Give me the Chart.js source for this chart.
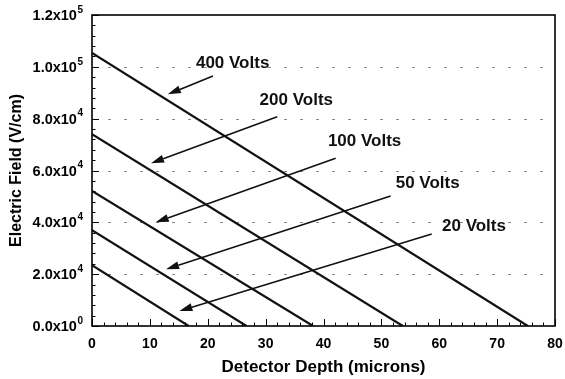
<!DOCTYPE html>
<html lang="en">
<head>
    <meta charset="UTF-8">
    <title>Electric Field vs Detector Depth</title>
    <script src="https://cdn.jsdelivr.net/npm/chart.js@4.4.1/dist/chart.umd.min.js"></script>
    <style>
        html, body { margin: 0; padding: 0; background: #fff; }
        #wrap { width: 565px; height: 379px; }
    </style>
</head>
<body>
    <div id="wrap">
        <canvas id="fieldChart" width="565" height="379"></canvas>
    </div>

    <script>
        // bias voltages and the field profile for each one
        const voltages = ['400 Volts', '200 Volts', '100 Volts', '50 Volts', '20 Volts'];
        const surfaceField = [105400, 74000, 52100, 37000, 23500];   // V/cm at depth 0
        const depletionDepth = [75.3, 53.7, 38.2, 26.7, 16.7];       // microns where field reaches 0

        // axis ticks
        const xTicks = [0, 10, 20, 30, 40, 50, 60, 70, 80];
        const yTickMantissa = ['0.0', '2.0', '4.0', '6.0', '8.0', '1.0', '1.2'];
        const yTickExponent = ['0', '4', '4', '4', '4', '5', '5'];

        // callout placement, in data units (depth, field)
        const labelAt   = [[24.3, 101500], [35.3, 86900], [47.1, 71100], [58.0, 55100], [66.0, 38600]];
        const arrowFrom = [[20.9, 96500],  [32.0, 80700], [42.1, 64700], [51.6, 50200], [58.7, 35500]];
        const arrowTo   = [[13.1, 89400],  [10.2, 62800], [11.0, 40000], [12.8, 21900], [15.1, 5800]];

        const FONT = '"Liberation Sans", Arial, Helvetica, sans-serif';

        const datasets = voltages.map((v, i) => ({
            label: v,
            data: [{ x: 0, y: surfaceField[i] }, { x: depletionDepth[i], y: 0 }],
            showLine: true,
            borderColor: '#111',
            borderWidth: 2.2,
            pointRadius: 0,
            fill: false
        }));

        // dotted grid, inward ticks, frame, y labels with exponents, callouts
        const decorations = {
            id: 'decorations',
            beforeDatasetsDraw(chart) {
                const { ctx, chartArea: a, scales: { y } } = chart;
                ctx.save();
                ctx.strokeStyle = '#8a8a8a';
                ctx.lineWidth = 1;
                ctx.setLineDash([3, 13]);
                for (let v = 20000; v <= 100000; v += 20000) {
                    const py = Math.round(y.getPixelForValue(v)) + 0.5;
                    ctx.beginPath();
                    ctx.moveTo(a.left, py);
                    ctx.lineTo(a.right, py);
                    ctx.stroke();
                }
                ctx.restore();
            },
            afterDatasetsDraw(chart) {
                const { ctx, chartArea: a, scales: { x, y } } = chart;
                ctx.save();

                // frame
                ctx.strokeStyle = '#000';
                ctx.lineWidth = 1.6;
                ctx.strokeRect(a.left, a.top, a.right - a.left, a.bottom - a.top);

                // inward tick marks
                ctx.lineWidth = 1;
                ctx.beginPath();
                for (let v = 0; v <= 80; v += 2) {
                    const px = Math.round(x.getPixelForValue(v)) + 0.5;
                    const len = v % 10 === 0 ? 7 : 3.5;
                    ctx.moveTo(px, a.bottom);
                    ctx.lineTo(px, a.bottom - len);
                }
                for (let v = 0; v <= 120000; v += 4000) {
                    const py = Math.round(y.getPixelForValue(v)) + 0.5;
                    const len = v % 20000 === 0 ? 7 : 3.5;
                    ctx.moveTo(a.left, py);
                    ctx.lineTo(a.left + len, py);
                }
                ctx.stroke();

                // y tick labels: mantissa x 10 with superscript exponent
                ctx.fillStyle = '#000';
                ctx.textBaseline = 'middle';
                yTickMantissa.forEach((m, i) => {
                    const py = y.getPixelForValue(i * 20000);
                    ctx.font = 'bold 10px ' + FONT;
                    const expW = ctx.measureText(yTickExponent[i]).width;
                    const right = a.left - 9;
                    ctx.textAlign = 'left';
                    ctx.fillText(yTickExponent[i], right - expW, py - 5);
                    ctx.font = 'bold 14.5px ' + FONT;
                    ctx.textAlign = 'right';
                    ctx.fillText(m + 'x10', right - expW - 0.5, py + 1);
                });

                // callout arrows and labels
                ctx.strokeStyle = '#111';
                ctx.fillStyle = '#111';
                ctx.lineWidth = 1.6;
                voltages.forEach((v, i) => {
                    const x0 = x.getPixelForValue(arrowFrom[i][0]);
                    const y0 = y.getPixelForValue(arrowFrom[i][1]);
                    const x1 = x.getPixelForValue(arrowTo[i][0]);
                    const y1 = y.getPixelForValue(arrowTo[i][1]);
                    const ang = Math.atan2(y1 - y0, x1 - x0);
                    const headLen = 13, headHalf = 4;
                    const bx = x1 - headLen * Math.cos(ang);
                    const by = y1 - headLen * Math.sin(ang);
                    ctx.beginPath();
                    ctx.moveTo(x0, y0);
                    ctx.lineTo(bx, by);
                    ctx.stroke();
                    ctx.beginPath();
                    ctx.moveTo(x1, y1);
                    ctx.lineTo(bx + headHalf * Math.sin(ang), by - headHalf * Math.cos(ang));
                    ctx.lineTo(bx - headHalf * Math.sin(ang), by + headHalf * Math.cos(ang));
                    ctx.closePath();
                    ctx.fill();

                    ctx.font = 'bold 17px ' + FONT;
                    ctx.textAlign = 'center';
                    ctx.textBaseline = 'middle';
                    ctx.fillText(v, x.getPixelForValue(labelAt[i][0]), y.getPixelForValue(labelAt[i][1]));
                });
                ctx.restore();
            }
        };

        new Chart(document.getElementById('fieldChart'), {
            type: 'scatter',
            data: { datasets },
            options: {
                responsive: false,
                animation: false,
                devicePixelRatio: 1,
                layout: { padding: { top: 15, right: 10, bottom: 0, left: 0 } },
                plugins: {
                    legend: { display: false },
                    tooltip: { enabled: false }
                },
                scales: {
                    x: {
                        type: 'linear',
                        min: 0,
                        max: 80,
                        afterBuildTicks: (scale) => { scale.ticks = xTicks.map(v => ({ value: v })); },
                        afterFit: (scale) => {
                            scale.height = 53;
                            scale.paddingLeft = 0;
                            scale.paddingRight = 0;
                        },
                        grid: { display: false, drawTicks: false },
                        border: { display: false },
                        ticks: {
                            color: '#000',
                            padding: 10,
                            maxRotation: 0,
                            font: { family: FONT, size: 14, weight: 'bold' }
                        },
                        title: {
                            display: true,
                            text: 'Detector Depth (microns)',
                            color: '#000',
                            padding: { top: 0, bottom: 1 },
                            font: { family: FONT, size: 17, weight: 'bold' }
                        }
                    },
                    y: {
                        type: 'linear',
                        min: 0,
                        max: 120000,
                        afterFit: (scale) => { scale.width = 92; },
                        grid: { display: false, drawTicks: false },
                        border: { display: false },
                        ticks: { display: false, stepSize: 20000 },
                        title: {
                            display: true,
                            text: 'Electric Field (V/cm)',
                            color: '#000',
                            padding: { top: 7, bottom: 0 },
                            font: { family: FONT, size: 16, weight: 'bold' }
                        }
                    }
                }
            },
            plugins: [decorations]
        });
    </script>
</body>
</html>
